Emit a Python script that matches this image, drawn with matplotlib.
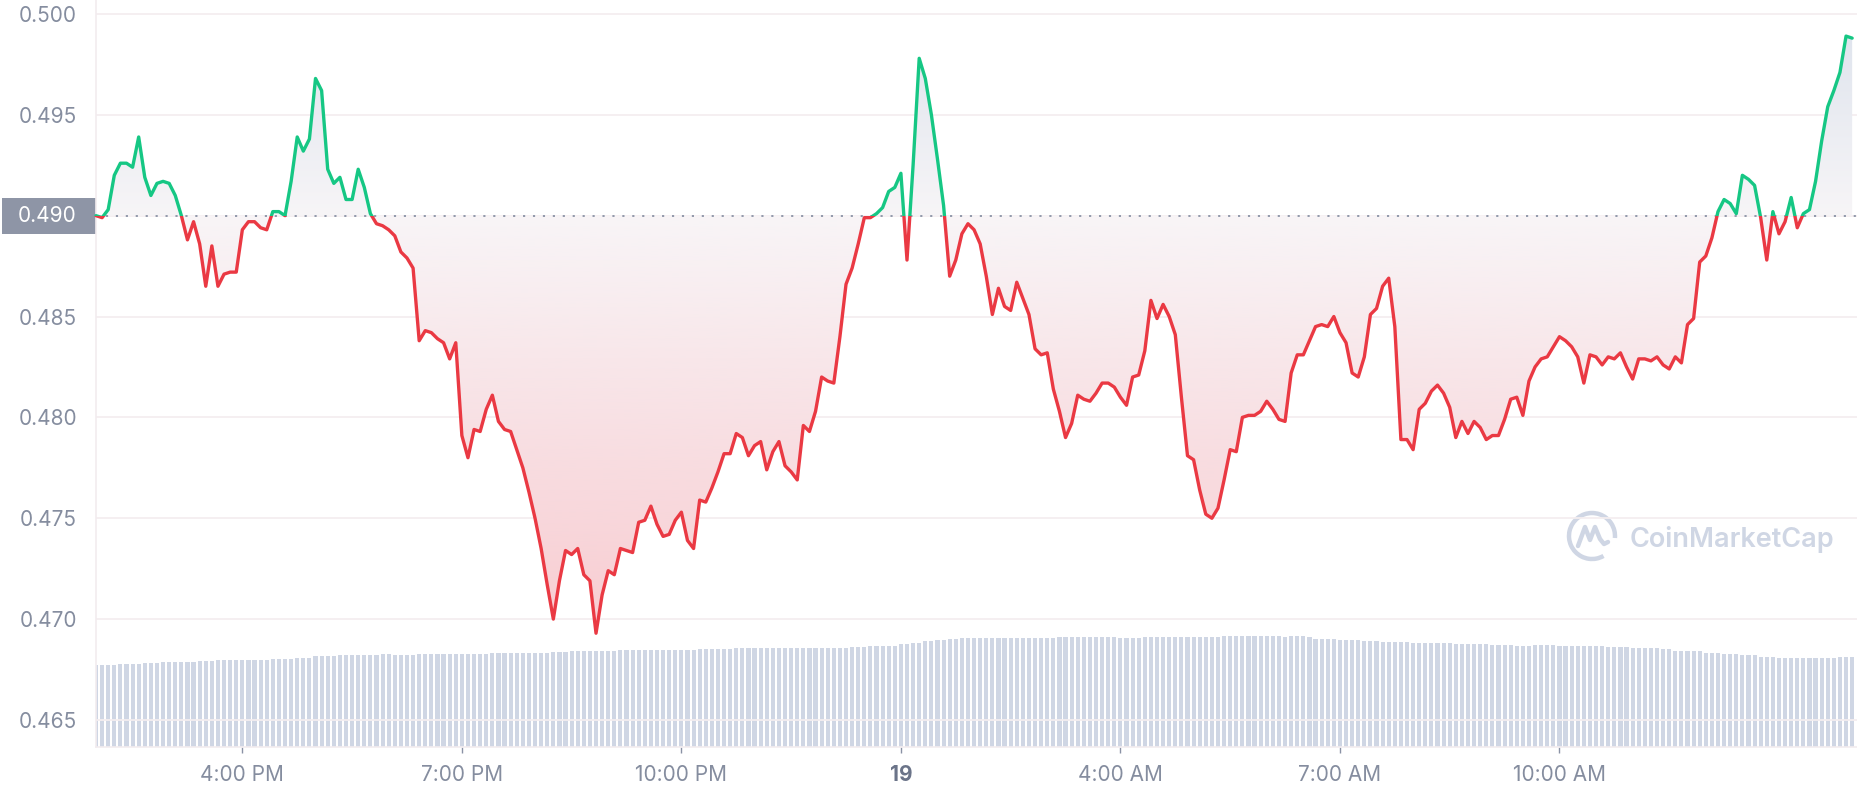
import numpy as np
import matplotlib.pyplot as plt
import matplotlib.colors as mcolors
from matplotlib.patches import Rectangle, Arc
from matplotlib.path import Path
from matplotlib.transforms import Affine2D, blended_transform_factory

plt.rcParams['font.family'] = ['Inter', 'DejaVu Sans']

# цена, шаг 5 минут
price = np.array([
    0.4900, 0.4899, 0.4903, 0.4920, 0.4926, 0.4926, 0.4924, 0.4939, 0.4919, 0.4910,
    0.4916, 0.4917, 0.4916, 0.4910, 0.4900, 0.4888, 0.4897, 0.4886, 0.4865, 0.4885,
    0.4865, 0.4871, 0.4872, 0.4872, 0.4893, 0.4897, 0.4897, 0.4894, 0.4893, 0.4902,
    0.4902, 0.4900, 0.4917, 0.4939, 0.4932, 0.4938, 0.4968, 0.4962, 0.4923, 0.4916,
    0.4919, 0.4908, 0.4908, 0.4923, 0.4914, 0.4901, 0.4896, 0.4895, 0.4893, 0.4890,
    0.4882, 0.4879, 0.4874, 0.4838, 0.4843, 0.4842, 0.4839, 0.4837, 0.4829, 0.4837,
    0.4791, 0.4780, 0.4794, 0.4793, 0.4804, 0.4811, 0.4798, 0.4794, 0.4793, 0.4784,
    0.4775, 0.4763, 0.4750, 0.4735, 0.4717, 0.4700, 0.4719, 0.4734, 0.4732, 0.4735,
    0.4722, 0.4719, 0.4693, 0.4712, 0.4724, 0.4722, 0.4735, 0.4734, 0.4733, 0.4748,
    0.4749, 0.4756, 0.4747, 0.4741, 0.4742, 0.4749, 0.4753, 0.4739, 0.4735, 0.4759,
    0.4758, 0.4765, 0.4773, 0.4782, 0.4782, 0.4792, 0.4790, 0.4781, 0.4786, 0.4788,
    0.4774, 0.4783, 0.4788, 0.4776, 0.4773, 0.4769, 0.4796, 0.4793, 0.4803, 0.4820,
    0.4818, 0.4817, 0.4840, 0.4866, 0.4874, 0.4886, 0.4899, 0.4899, 0.4901, 0.4904,
    0.4912, 0.4914, 0.4921, 0.4878, 0.4925, 0.4978, 0.4968, 0.4950, 0.4928, 0.4905,
    0.4870, 0.4878, 0.4891, 0.4896, 0.4893, 0.4886, 0.4870, 0.4851, 0.4864, 0.4855,
    0.4853, 0.4867, 0.4859, 0.4851, 0.4834, 0.4831, 0.4832, 0.4814, 0.4803, 0.4790,
    0.4797, 0.4811, 0.4809, 0.4808, 0.4812, 0.4817, 0.4817, 0.4815, 0.4810, 0.4806,
    0.4820, 0.4821, 0.4833, 0.4858, 0.4849, 0.4856, 0.4850, 0.4841, 0.4810, 0.4781,
    0.4779, 0.4764, 0.4752, 0.4750, 0.4755, 0.4769, 0.4784, 0.4783, 0.4800, 0.4801,
    0.4801, 0.4803, 0.4808, 0.4804, 0.4799, 0.4798, 0.4822, 0.4831, 0.4831, 0.4838,
    0.4845, 0.4846, 0.4845, 0.4850, 0.4842, 0.4837, 0.4822, 0.4820, 0.4830, 0.4851,
    0.4854, 0.4865, 0.4869, 0.4845, 0.4789, 0.4789, 0.4784, 0.4804, 0.4807, 0.4813,
    0.4816, 0.4812, 0.4805, 0.4790, 0.4798, 0.4792, 0.4798, 0.4795, 0.4789, 0.4791,
    0.4791, 0.4799, 0.4809, 0.4810, 0.4801, 0.4818, 0.4825, 0.4829, 0.4830, 0.4835,
    0.4840, 0.4838, 0.4835, 0.4830, 0.4817, 0.4831, 0.4830, 0.4826, 0.4830, 0.4829,
    0.4832, 0.4825, 0.4819, 0.4829, 0.4829, 0.4828, 0.4830, 0.4826, 0.4824, 0.4830,
    0.4827, 0.4846, 0.4849, 0.4877, 0.4880, 0.4889, 0.4902, 0.4908, 0.4906, 0.4901,
    0.4920, 0.4918, 0.4915, 0.4899, 0.4878, 0.4902, 0.4891, 0.4897, 0.4909, 0.4894,
    0.4901, 0.4903, 0.4917, 0.4937, 0.4954, 0.4962, 0.4971, 0.4989, 0.4988,
])

# объём за 24ч, млрд $
volume = np.array([
    1.394, 1.394, 1.394, 1.394, 1.411, 1.411, 1.411, 1.411, 1.428, 1.428,
    1.428, 1.445, 1.445, 1.445, 1.445, 1.445, 1.445, 1.462, 1.462, 1.462,
    1.479, 1.479, 1.479, 1.479, 1.479, 1.479, 1.479, 1.479, 1.479, 1.496,
    1.496, 1.496, 1.496, 1.513, 1.513, 1.513, 1.547, 1.547, 1.547, 1.547,
    1.564, 1.564, 1.564, 1.564, 1.564, 1.564, 1.564, 1.581, 1.581, 1.564,
    1.564, 1.564, 1.564, 1.581, 1.581, 1.581, 1.581, 1.581, 1.581, 1.581,
    1.581, 1.581, 1.581, 1.581, 1.581, 1.598, 1.598, 1.598, 1.598, 1.598,
    1.598, 1.598, 1.598, 1.598, 1.598, 1.615, 1.615, 1.615, 1.632, 1.632,
    1.632, 1.632, 1.632, 1.632, 1.632, 1.632, 1.649, 1.649, 1.649, 1.649,
    1.649, 1.649, 1.649, 1.649, 1.649, 1.649, 1.649, 1.649, 1.649, 1.666,
    1.666, 1.666, 1.666, 1.666, 1.666, 1.683, 1.683, 1.683, 1.683, 1.683,
    1.683, 1.683, 1.683, 1.683, 1.683, 1.683, 1.683, 1.683, 1.683, 1.683,
    1.683, 1.683, 1.683, 1.683, 1.700, 1.700, 1.700, 1.717, 1.717, 1.717,
    1.717, 1.717, 1.751, 1.751, 1.768, 1.768, 1.802, 1.802, 1.819, 1.819,
    1.836, 1.836, 1.853, 1.853, 1.853, 1.853, 1.853, 1.853, 1.853, 1.853,
    1.853, 1.853, 1.853, 1.853, 1.853, 1.853, 1.853, 1.853, 1.870, 1.870,
    1.870, 1.870, 1.870, 1.870, 1.870, 1.870, 1.870, 1.870, 1.853, 1.853,
    1.853, 1.853, 1.870, 1.870, 1.870, 1.870, 1.870, 1.870, 1.870, 1.870,
    1.870, 1.870, 1.870, 1.870, 1.870, 1.887, 1.887, 1.887, 1.887, 1.887,
    1.887, 1.887, 1.887, 1.887, 1.887, 1.870, 1.887, 1.887, 1.887, 1.870,
    1.836, 1.836, 1.836, 1.836, 1.819, 1.819, 1.819, 1.819, 1.802, 1.802,
    1.802, 1.785, 1.785, 1.785, 1.785, 1.785, 1.768, 1.768, 1.768, 1.768,
    1.768, 1.768, 1.768, 1.751, 1.751, 1.751, 1.751, 1.751, 1.751, 1.734,
    1.734, 1.734, 1.734, 1.717, 1.717, 1.717, 1.734, 1.734, 1.734, 1.734,
    1.717, 1.717, 1.717, 1.717, 1.717, 1.717, 1.717, 1.717, 1.700, 1.700,
    1.700, 1.700, 1.683, 1.683, 1.683, 1.683, 1.683, 1.666, 1.666, 1.632,
    1.632, 1.632, 1.632, 1.632, 1.598, 1.598, 1.598, 1.581, 1.581, 1.581,
    1.564, 1.564, 1.564, 1.530, 1.530, 1.530, 1.513, 1.513, 1.513, 1.513,
    1.513, 1.513, 1.513, 1.513, 1.513, 1.513, 1.530, 1.530, 1.530,
])

base = 0.490  # цена открытия
hours = np.arange(len(price)) / 12  # часы от начала
x_ticks = [2, 5, 8, 11, 14, 17, 20]
x_labels = ['4:00 PM', '7:00 PM', '10:00 PM', '19', '4:00 AM', '7:00 AM', '10:00 AM']
y_ticks = [0.465, 0.470, 0.475, 0.480, 0.485, 0.490, 0.495, 0.500]

GREEN = '#16c784'
RED = '#ea3943'
GREY = '#858d9f'
GRID = '#f4eef0'

W, H = 1858, 800
fig = plt.figure(figsize=(W / 100, H / 100), dpi=100)
fig.patch.set_facecolor('white')
ax2 = fig.add_axes([96 / W, 53 / H, 1762 / W, 747 / H])
ax = fig.add_axes([96 / W, 53 / H, 1762 / W, 747 / H], sharex=ax2)
ax.set_zorder(2)
ax.patch.set_visible(False)

xmax = 24.08
ymin, ymax = 0.46366, 0.50069

# объём
ax2.bar(hours, volume, width=0.68 / 12, color='#cfd6e4', linewidth=0)
ax2.set_ylim(0, 12.7)
ax2.set_yticks([])
for s in ax2.spines.values():
    s.set_visible(False)
ax2.tick_params(axis='x', which='both', length=0, labelbottom=False)

# градиентные заливки
def vgrad(c_lo, c_hi, n=256):
    lo = np.array(mcolors.to_rgb(c_lo))
    hi = np.array(mcolors.to_rgb(c_hi))
    f = np.linspace(0, 1, n)[:, None]
    return (lo + (hi - lo) * f)[:, None, :]

dn = ax.fill_between(hours, price, base, where=price <= base, interpolate=True,
                     facecolor='none', edgecolor='none')
up = ax.fill_between(hours, price, base, where=price >= base, interpolate=True,
                     facecolor='none', edgecolor='none')
im_dn = ax.imshow(vgrad('#f8ccd1', '#f8f5f7'), extent=[0, hours[-1], price.min(), base],
                  origin='lower', aspect='auto', zorder=1, interpolation='bilinear')
im_dn.set_clip_path(Path.make_compound_path(*dn.get_paths()), transform=ax.transData)
im_up = ax.imshow(vgrad('#f7f5f7', '#e0e5ee'), extent=[0, hours[-1], base, price.max()],
                  origin='lower', aspect='auto', zorder=1, interpolation='bilinear')
im_up.set_clip_path(Path.make_compound_path(*up.get_paths()), transform=ax.transData)

# линия, зелёная выше и красная ниже открытия
for color, y0 in [(GREEN, base), (RED, base - 1)]:
    ln, = ax.plot(hours, price, color=color, lw=2.4, solid_joinstyle='round',
                  solid_capstyle='round', zorder=4)
    clip = Rectangle((-1, y0), xmax + 2, 1, transform=ax.transData)
    ln.set_clip_path(clip)

ax.axhline(base, color='#8a92a5', lw=1.3, linestyle=(0, (1.2, 4.3)), zorder=3)

ax.set_xlim(0, xmax)
ax.set_ylim(ymin, ymax)
ax.set_yticks(y_ticks)
ax.set_yticklabels(['' if v == base else f'{v:.3f}' for v in y_ticks])
ax.set_xticks(x_ticks)
ax.set_xticklabels(x_labels)
ax.grid(axis='y', color=GRID, lw=1.3)
ax.set_axisbelow(True)
ax.tick_params(axis='y', length=0, pad=13.5, labelsize=15, labelcolor=GREY)
ax.tick_params(axis='x', length=4, width=1, color='#8a92a5', pad=9, labelsize=15, labelcolor=GREY)
ax.get_xticklabels()[3].set_fontweight('bold')
ax.get_xticklabels()[3].set_color('#6b7489')
for s in ['top', 'right']:
    ax.spines[s].set_visible(False)
for s in ['left', 'bottom']:
    ax.spines[s].set_color('#f2ecef')
    ax.spines[s].set_linewidth(1.2)

# подпись открытия слева
pix = Affine2D().scale(1 / W, 1 / H) + fig.transFigure
tr = blended_transform_factory(pix, ax.transData)
box_h = 36 / 20172
fig.add_artist(Rectangle((2, base - box_h / 2), 94, box_h, transform=tr,
                         facecolor='#8e95a6', edgecolor='none'))
fig.text(77, base, f'{base:.3f}', transform=tr, ha='right', va='center',
         color='white', fontsize=15)

# водяной знак
wm = '#cfd6e4'
cx, cy = 1592, H - 536
fig.add_artist(Arc((cx, cy), 46, 46, theta1=-5, theta2=300, transform=pix,
                   color=wm, lw=3.2))
mx = [cx - 14, cx - 7, cx - 2, cx + 3, cx + 8, cx + 12, cx + 16]
my = [cy - 10, cy + 9, cy - 4, cy + 9, cy - 3, cy - 8, cy - 6]
fig.add_artist(plt.Line2D(mx, my, transform=pix, color=wm, lw=3.2,
                          solid_joinstyle='round', solid_capstyle='round'))
fig.text(1630, H - 547, 'CoinMarketCap', transform=pix, ha='left', va='baseline',
         color=wm, fontsize=19.5, fontweight='semibold')

fig.savefig('out.png', dpi=100)
